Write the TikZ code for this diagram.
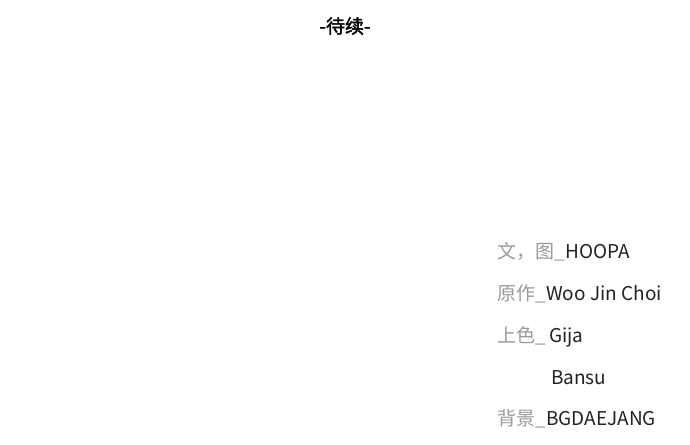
\documentclass[tikz,border=0pt]{standalone}
\usepackage{fontspec}
\usetikzlibrary{positioning}
\setmainfont{Noto Sans CJK SC}
\newfontfamily\cjkbold[FakeBold=2]{Noto Sans CJK SC}
\definecolor{lblgray}{HTML}{9A9A9A}
\definecolor{namegray}{HTML}{222222}
\tikzstyle{credit} = [anchor=base west, inner sep=0pt, font=\fontsize{19}{19}\selectfont]
\tikzstyle{lbl} = [credit, text=lblgray]
\tikzstyle{who} = [credit, text=namegray]

\begin{document}
\begin{tikzpicture}[x=1pt, y=1pt]
\useasboundingbox[fill=white] (0,0) rectangle (690,444);

% Titel
\node (tbc) [inner sep=0pt, font=\cjkbold\fontsize{19}{19}\selectfont] at (345,418) {-待续-};

% Credits
\node (art) [lbl] at (497,185) {文，图\_};
\node (artname) [who] at (art.base east) {HOOPA};
\node (orig) [lbl] at (497,143) {原作\_};
\node (origname) [who] at (orig.base east) {Woo Jin Choi};
\node (color) [lbl] at (497,101) {上色\_};
\node (colorname) [who, xshift=3pt] at (color.base east) {Gija};
\node (colorname2) [who] at (551,59) {Bansu};
\node (bg) [lbl] at (497,18) {背景\_};
\node (bgname) [who] at (bg.base east) {BGDAEJANG};

\end{tikzpicture}
\end{document}
